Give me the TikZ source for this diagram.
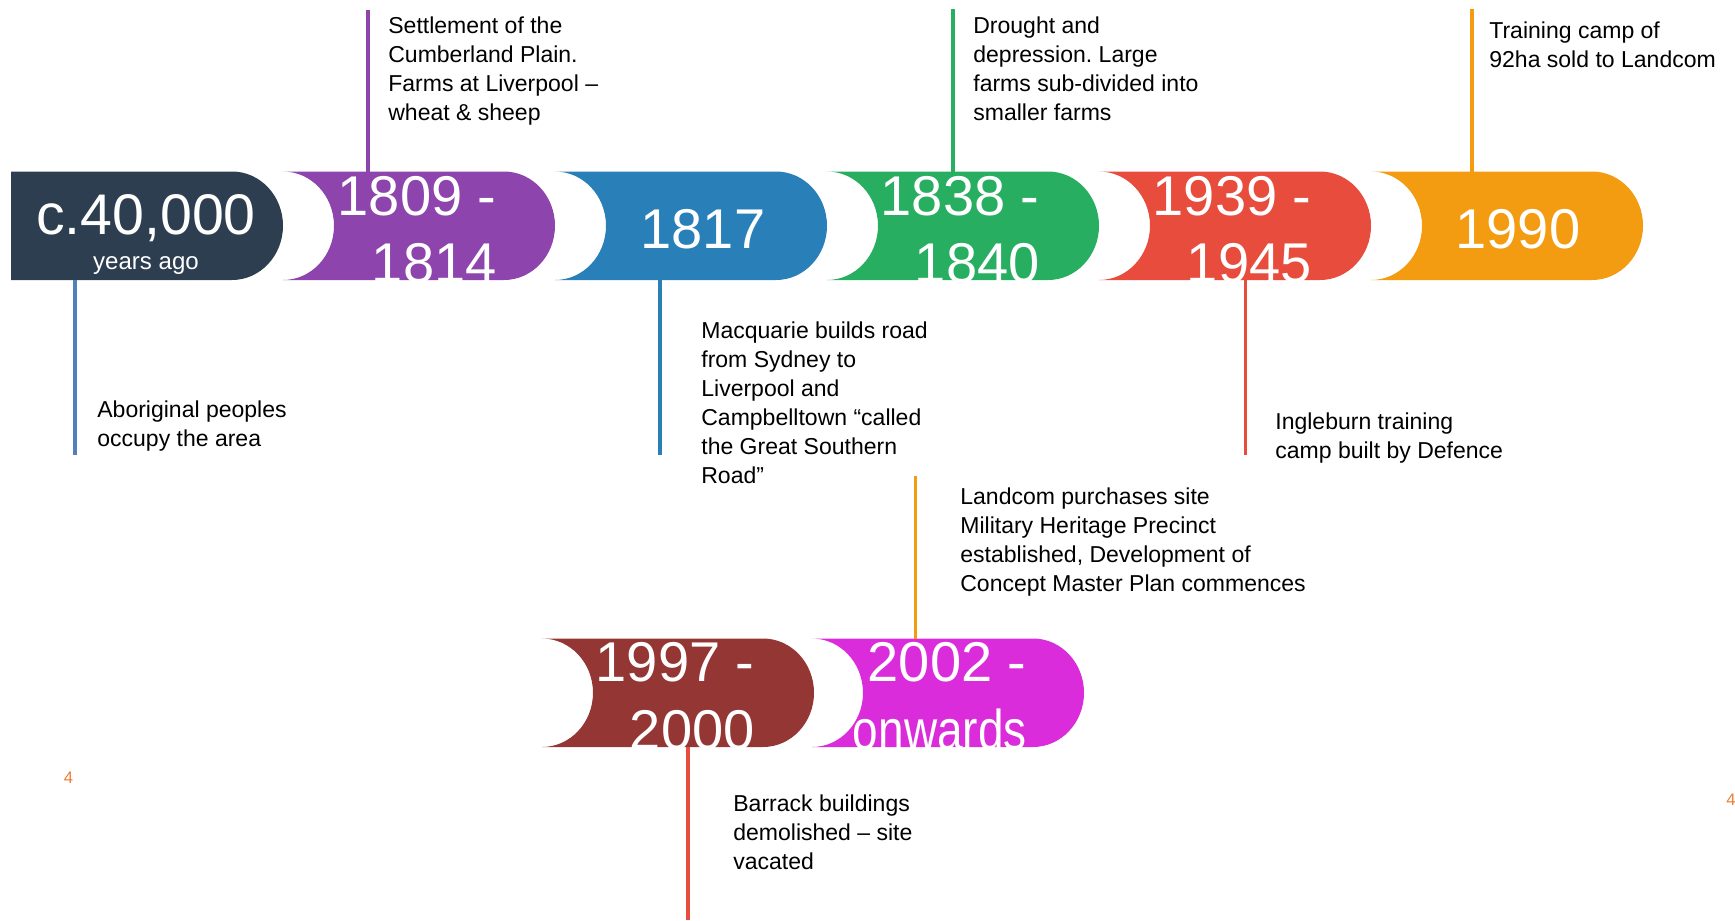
\documentclass[tikz,border=0pt]{standalone}
\usepackage{fontspec}
\usepackage{graphicx}
\setmainfont{Liberation Sans}
\frenchspacing

\definecolor{nightblue}{HTML}{2C3E50}
\definecolor{plum}{HTML}{8E44AD}
\definecolor{seablue}{HTML}{2980B9}
\definecolor{grassgreen}{HTML}{27AE60}
\definecolor{tomato}{HTML}{E74C3C}
\definecolor{amber}{HTML}{F39C12}
\definecolor{brick}{HTML}{943634}
\definecolor{orchid}{HTML}{DA2CDA}
\definecolor{paleblue}{HTML}{4F81BD}
\definecolor{pageorange}{HTML}{ED7D31}

\tikzset{
  note/.style={anchor=north west, inner sep=0pt, align=left,
    font=\fontsize{13.1}{16.5}\selectfont},
  yearlabel/.style={text=white, inner sep=0pt,
    font=\fontsize{31.9}{38.4}\selectfont},
  stem/.style={line width=1.9pt},
  pagenum/.style={text=pageorange, inner sep=0pt, font=\fontsize{9.5}{10}\selectfont},
}

% a coloured tab: round nose on the right, notch on the left
% #1 left edge, #2 top edge, #3 colour
\newcommand{\eratab}[3]{%
  \fill[#3] (#1,#2) -- ++(221,0)
    arc[start angle=-90, end angle=90, x radius=51, y radius=54.25]
    -- (#1,#2+108.5)
    arc[start angle=90, end angle=-90, x radius=51, y radius=54.25] -- cycle;}

\begin{document}
\begin{tikzpicture}[x=0.02cm, y=-0.02cm]
  \useasboundingbox (0,0) rectangle (1735,920);

  % top row of tabs
  \fill[nightblue] (11,171.5) -- (232,171.5)
    arc[start angle=-90, end angle=90, x radius=51, y radius=54.25]
    -- (11,280) -- cycle;
  \eratab{283}{171.5}{plum}
  \eratab{555}{171.5}{seablue}
  \eratab{827}{171.5}{grassgreen}
  \eratab{1099}{171.5}{tomato}
  \eratab{1371}{171.5}{amber}

  % second row
  \eratab{542}{638.5}{brick}
  \eratab{812}{638.5}{orchid}

  % years on the tabs
  \node[yearlabel, anchor=base, font=\fontsize{32.6}{38}\selectfont] (c40) at (146,234) {c.40,000};
  \node[yearlabel, anchor=base, font=\fontsize{13.7}{16}\selectfont] (c40sub) at (146,269) {years ago};
  \node[yearlabel, anchor=east, align=right] (y1809) at (497,229.5) {1809 -\\1814};
  \node[yearlabel] (y1817) at (703,229.5) {1817};
  \node[yearlabel, anchor=east, align=right] (y1838) at (1040,229.5) {1838 -\\1840};
  \node[yearlabel, anchor=east, align=right] (y1939) at (1312,229.5) {1939 -\\1945};
  \node[yearlabel] (y1990) at (1518,229.5) {1990};
  \node[yearlabel, anchor=east, align=right] (y1997) at (755,696) {1997 -\\2000};
  \node[yearlabel, anchor=east, align=right] (y2002) at (1027,696) {2002 -\\\scalebox{0.82}[1]{onwards}};

  % notes
  \node[note] (aborig) at (97,400) {Aboriginal peoples\\occupy the area};
  \node[note] (settle) at (388,16.5) {Settlement of the\\Cumberland Plain.\\Farms at Liverpool --\\wheat \& sheep};
  \node[note] (macq) at (701,321.5) {Macquarie builds road\\from Sydney to\\Liverpool and\\Campbelltown “called\\the Great Southern\\Road”};
  \node[note] (drought) at (973,16.5) {Drought and\\depression. Large\\farms sub-divided into\\smaller farms};
  \node[note] (ingle) at (1275,412.5) {Ingleburn training\\camp built by Defence};
  \node[note] (camp) at (1489,21.5) {Training camp of\\92ha sold to Landcom};
  \node[note] (landcom) at (960,487) {Landcom purchases site\\Military Heritage Precinct\\established, Development of\\Concept Master Plan commences};
  \node[note] (barrack) at (733,794.5) {Barrack buildings\\demolished -- site\\vacated};

  % stems between tabs and notes
  \coordinate (aborigA) at (75,280);     \coordinate (aborigB) at (75,455);
  \coordinate (settleA) at (368,171.5);  \coordinate (settleB) at (368,10);
  \coordinate (macqA) at (660,280);      \coordinate (macqB) at (660,455);
  \coordinate (droughtA) at (953,171.5); \coordinate (droughtB) at (953,9);
  \coordinate (ingleA) at (1245.5,280);  \coordinate (ingleB) at (1245.5,455);
  \coordinate (campA) at (1472,171.5);   \coordinate (campB) at (1472,9);
  \coordinate (landcomA) at (915.5,638.5); \coordinate (landcomB) at (915.5,476);
  \coordinate (barrackA) at (688,747);   \coordinate (barrackB) at (688,920);

  \draw[stem, paleblue] (aborigA) -- (aborigB);
  \draw[stem, plum] (settleA) -- (settleB);
  \draw[stem, seablue] (macqA) -- (macqB);
  \draw[stem, grassgreen] (droughtA) -- (droughtB);
  \draw[stem, tomato] (ingleA) -- (ingleB);
  \draw[stem, amber] (campA) -- (campB);
  \draw[stem, amber] (landcomA) -- (landcomB);
  \draw[stem, tomato] (barrackA) -- (barrackB);

  % page numbers
  \node[pagenum] (pgleft) at (68.6,778) {4};
  \node[pagenum, anchor=west] (pgright) at (1726,799.5) {4};
\end{tikzpicture}
\end{document}
